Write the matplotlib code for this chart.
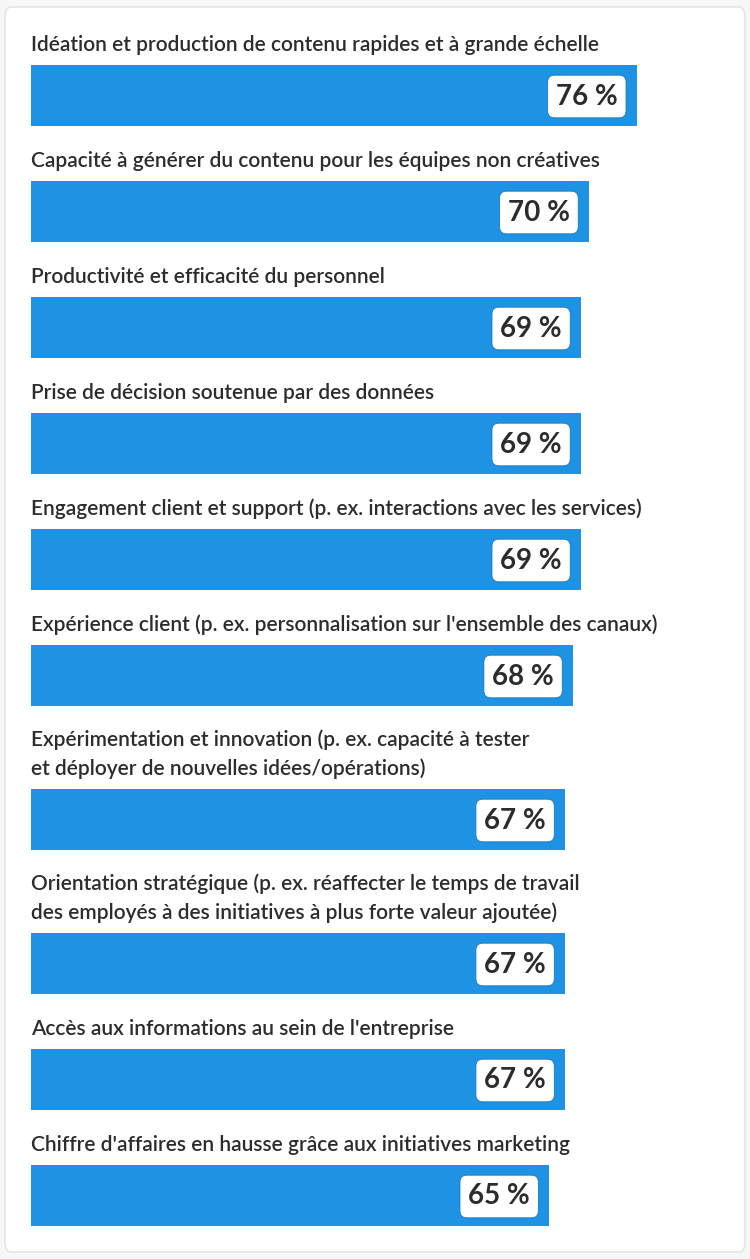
import matplotlib.pyplot as plt
from matplotlib.patches import FancyBboxPatch

# données du graphique
labels = [
    "Idéation et production de contenu rapides et à grande échelle",
    "Capacité à générer du contenu pour les équipes non créatives",
    "Productivité et efficacité du personnel",
    "Prise de décision soutenue par des données",
    "Engagement client et support (p. ex. interactions avec les services)",
    "Expérience client (p. ex. personnalisation sur l'ensemble des canaux)",
    "Expérimentation et innovation (p. ex. capacité à tester\net déployer de nouvelles idées/opérations)",
    "Orientation stratégique (p. ex. réaffecter le temps de travail\ndes employés à des initiatives à plus forte valeur ajoutée)",
    "Accès aux informations au sein de l'entreprise",
    "Chiffre d'affaires en hausse grâce aux initiatives marketing",
]
values = [76, 70, 69, 69, 69, 68, 67, 67, 67, 65]

BAR_COLOR = "#1e93e3"
TEXT_COLOR = "#2c2c2c"
W, H = 750, 1259
PX_PER_PCT = 7.97   # largeur d'un point de pourcentage en pixels
X0 = 31             # bord gauche des barres
BAR_H = 61

fig = plt.figure(figsize=(W / 100, H / 100), dpi=100)
fig.patch.set_facecolor("#f7f7f7")

# carte blanche arrondie
card = FancyBboxPatch((5 / W, 7 / H), 740 / W, 1245 / H,
                      boxstyle="round,pad=0,rounding_size=0.008",
                      transform=fig.transFigure, facecolor="white",
                      edgecolor="#e4e4e4", linewidth=1.2, zorder=-5)
fig.patches.append(card)

ax = fig.add_axes([0, 0, 1, 1])
ax.set_xlim(-X0 / PX_PER_PCT, (W - X0) / PX_PER_PCT)
ax.set_ylim(H, 0)
ax.axis("off")

# disposition verticale : position du haut de chaque barre
tops = []
y = 65
for lab in labels:
    if "\n" in lab:
        y += 28
    tops.append(y)
    y += BAR_H + 55

centers = [t + BAR_H / 2 for t in tops]
ax.barh(centers, values, height=BAR_H, color=BAR_COLOR, left=0)

for lab, v, t, c in zip(labels, values, tops, centers):
    ax.text(0, t - 10, lab, ha="left", va="bottom", fontsize=15,
            family=["Lato", "DejaVu Sans"], fontweight="semibold",
            color=TEXT_COLOR, linespacing=1.5)
    ax.text(v - 19 / PX_PER_PCT, c + 1, f"{v} %", ha="right", va="center",
            fontsize=20, family=["Lato", "DejaVu Sans"], fontweight="bold",
            color=TEXT_COLOR,
            bbox=dict(boxstyle="round,pad=0.3,rounding_size=0.25",
                      facecolor="white", edgecolor="#1677c0", linewidth=0.6))

fig.savefig("out.png", dpi=100, facecolor=fig.get_facecolor())
